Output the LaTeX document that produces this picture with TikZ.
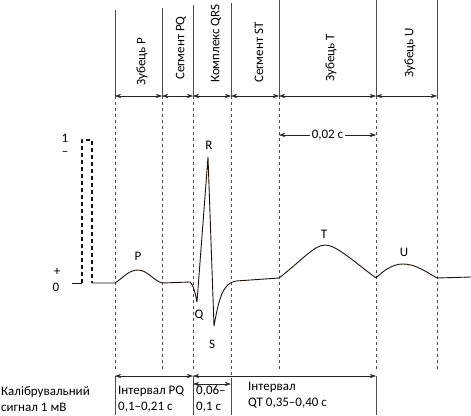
\documentclass[tikz,border=0pt]{standalone}
\usepackage{fontspec}
\setmainfont{Carlito}
\usetikzlibrary{arrows.meta}
\begin{document}
\begin{tikzpicture}[x=1pt, y=-1pt,
                font=\fontsize{13}{16}\selectfont,
                guide/.style={draw=black!70, thin},
                span/.style={
                    {Stealth[length=6pt,width=4pt]}-{Stealth[length=6pt,width=4pt]}, draw=black!85, thin
                },
                wave/.style={draw=black!85!brown, line width=0.9pt, line join=round},
                vlabel/.style={rotate=90, anchor=west, inner sep=1pt},
                peak/.style={inner sep=1pt}
            ]
            \useasboundingbox (0,0) rectangle (471,415);

            % boundaries of the waves
            \coordinate (t1) at (115,10);  \coordinate (m1) at (115,96);  \coordinate (d1) at (115,372);
            \coordinate (t2) at (162,8);   \coordinate (m2) at (162,96);  \coordinate (d2) at (162,370);
            \coordinate (t3) at (193,5);   \coordinate (m3) at (193,96);  \coordinate (d3) at (193,372);
            \coordinate (t4) at (231,3);   \coordinate (m4) at (231,96);  \coordinate (d4) at (231,378);
            \coordinate (t5) at (279,0);   \coordinate (m5) at (279,96);  \coordinate (d5) at (279,370);
            \coordinate (t6) at (376,0);   \coordinate (m6) at (376,96);  \coordinate (d6) at (376,372);
            \coordinate (t7) at (437,0);   \coordinate (m7) at (437,96);  \coordinate (d7) at (437,370);

            \draw[guide] (t1) -- (m1);  \draw[guide, dashed] (m1) -- (d1);
            \draw[guide] (t2) -- (m2);  \draw[guide, dashed] (m2) -- (d2);
            \draw[guide] (t3) -- (m3);  \draw[guide, dashed] (m3) -- (d3);
            \draw[guide] (t4) -- (m4);  \draw[guide, dashed] (m4) -- (d4);
            \draw[guide] (t5) -- (m5);  \draw[guide, dashed] (m5) -- (d5);
            \draw[guide] (t6) -- (m6);  \draw[guide, dashed] (m6) -- (d6);
            \draw[guide] (t7) -- (m7);  \draw[guide, dashed] (m7) -- (d7);

            % names of the parts
            \draw[span] (m1) -- (m2);
            \draw[span] (m2) -- (m3);
            \draw[span] (m3) -- (m4);
            \draw[span] (m4) -- (m5);
            \draw[span] (m5) -- (m6);
            \draw[span] (m6) -- (m7);
            \node[vlabel] (zP) at (142,87) {Зубець P};
            \node[vlabel] (sPQ) at (181,81) {Сегмент PQ};
            \node[vlabel] (kQRS) at (216,84) {Комплекс QRS};
            \node[vlabel] (sST) at (259,84) {Сегмент ST};
            \node[vlabel] (zT) at (331,83) {Зубець T};
            \node[vlabel] (zU) at (410,79) {Зубець U};

            \coordinate (k1) at (279,135);
            \coordinate (k2) at (376,135);
            \draw[span] (k1) -- (k2) node[midway, fill=white, inner sep=2pt] {0,02 с};

            % calibration
            \node (one) at (65,138) {1};
            \node (minus) at (65,153) {--};
            \node (plus) at (57,272) {+};
            \node (zero) at (56,287) {0};
            \draw[wave] (72,283) -- (82,283);
            \draw[wave, line width=1.1pt, dash pattern=on 4pt off 3pt] (82,283) -- (82,140) -- (92,140) -- (92,283);

            % ecg
            \draw[wave] (92,283) -- (115,283)
                .. controls (124,277) and (129,270) .. (138,270)
                .. controls (147,270) and (153,280) .. (162,283)
                -- (190,282)
                .. controls (193,284) and (195,292) .. (197,302)
                -- (208,157) -- (214,326)
                .. controls (219,298) and (223,283) .. (236,281)
                -- (279,278)
                .. controls (300,262) and (314,245) .. (325,245)
                .. controls (336,245) and (352,260) .. (376,278)
                .. controls (384,270) and (393,264) .. (403,264)
                .. controls (415,264) and (425,271) .. (437,278)
                -- (471,277);
            \node[peak] (P) at (138,256) {P};
            \node[peak] (R) at (209,145) {R};
            \node[peak] (Q) at (199,315) {Q};
            \node[peak] (S) at (212,344) {S};
            \node[peak] (T) at (324,234) {T};
            \node[peak] (U) at (404,252) {U};

            % intervals
            \coordinate (i1) at (115,376);  \coordinate (f1) at (115,415);
            \coordinate (i2) at (193,376);  \coordinate (f2) at (193,415);
            \coordinate (j2) at (193,384);
            \coordinate (i3) at (231,384);  \coordinate (f3) at (231,415);
            \coordinate (i4) at (376,376);  \coordinate (f4) at (376,415);
            \draw[guide] (i1) -- (f1);
            \draw[guide] (i2) -- (f2);
            \draw[guide] (d4) -- (f3);
            \draw[guide] (i4) -- (f4);
            \draw[span] (i1) -- (i2);
            \draw[span] (i2) -- (i4);
            \draw[span] (j2) -- (i3);

            \node[anchor=north west, align=left, inner sep=0pt] (cal) at (1,386) {Калібрувальний\\сигнал 1 мВ};
            \node[anchor=north west, align=left, inner sep=0pt] (iPQ) at (118,386) {Інтервал PQ\\0,1--0,21 с};
            \node[anchor=north west, align=left, inner sep=0pt] (iQRS) at (196,386) {0,06--\\0,1 с};
            \node[anchor=north west, align=left, inner sep=0pt] (iQT) at (248,382) {Інтервал\\QT 0,35--0,40 с};
            \end{tikzpicture}
\end{document}
